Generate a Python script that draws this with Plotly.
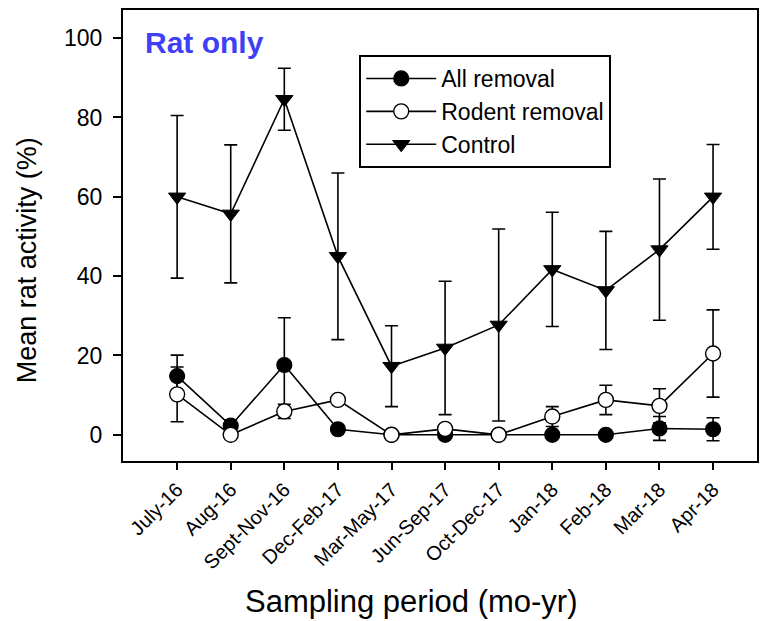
import plotly.graph_objects as go

periods = ["July-16", "Aug-16", "Sept-Nov-16", "Dec-Feb-17", "Mar-May-17",
           "Jun-Sep-17", "Oct-Dec-17", "Jan-18", "Feb-18", "Mar-18", "Apr-18"]

all_removal = [14.8, 2.3, 17.6, 1.4, 0, 0, 0, 0, 0, 1.6, 1.4]
all_removal_err = [5.3, 1.5, 11.9, 0, 0, 0, 0, 0, 0, 3.0, 2.9]

rodent_removal = [10.2, 0, 5.9, 8.8, 0, 1.5, 0, 4.6, 8.8, 7.3, 20.5]
rodent_removal_err = [6.9, 0, 1.8, 0, 0, 0, 0, 2.5, 3.7, 4.3, 11.0]

control = [60, 55.7, 84.6, 45, 17.3, 21.9, 27.7, 41.7, 36.4, 46.7, 60]
control_err = [20.5, 17.4, 7.8, 21, 10.2, 16.8, 24.2, 14.4, 14.9, 17.8, 13.2]

FONT = "Liberation Sans, Arial, sans-serif"

def err(vals):
    return dict(type="data", array=vals, visible=True, color="black",
                thickness=1.6, width=6.5)

fig = go.Figure()
fig.add_trace(go.Scatter(
    x=periods, y=all_removal, name="All removal", mode="lines+markers",
    line=dict(color="black", width=1.6),
    marker=dict(symbol="circle", size=15, color="black",
                line=dict(color="black", width=1.2)),
    error_y=err(all_removal_err)))
fig.add_trace(go.Scatter(
    x=periods, y=rodent_removal, name="Rodent removal", mode="lines+markers",
    line=dict(color="black", width=1.6),
    marker=dict(symbol="circle", size=15, color="white",
                line=dict(color="black", width=1.4)),
    error_y=err(rodent_removal_err)))
fig.add_trace(go.Scatter(
    x=periods, y=control, name="Control", mode="lines+markers",
    line=dict(color="black", width=1.6),
    marker=dict(symbol="triangle-down", size=15, color="black",
                line=dict(color="black", width=1)),
    error_y=err(control_err)))

fig.update_layout(
    width=762, height=621,
    margin=dict(l=123, r=3, t=10, b=160),
    paper_bgcolor="white", plot_bgcolor="white",
    font=dict(family=FONT, color="black"),
    showlegend=True,
    legend=dict(x=0.3726, y=0.9002, xanchor="left", yanchor="top",
                bordercolor="black", borderwidth=2, bgcolor="white",
                font=dict(size=23, family=FONT, color="black"),
                itemwidth=70, tracegroupgap=0),
    xaxis=dict(type="category", range=[-1.01, 10.82],
               showline=True, linecolor="black", linewidth=2, mirror=True,
               ticks="outside", ticklen=7, tickwidth=1.6, tickcolor="black",
               tickangle=-45, tickfont=dict(size=20, family=FONT),
               showgrid=False, zeroline=False),
    yaxis=dict(range=[-6.6, 107.1], tickvals=[0, 20, 40, 60, 80, 100],
               showline=True, linecolor="black", linewidth=2, mirror=True,
               ticks="outside", ticklen=8, tickwidth=1.6, tickcolor="black",
               tickfont=dict(size=23, family=FONT), ticklabelstandoff=6,
               showgrid=False, zeroline=False),
    annotations=[
        dict(text="<b>Rat only</b>", xref="paper", yref="paper",
             x=(143 - 123) / 636, y=(461 - 43) / 451, xanchor="left", yanchor="middle",
             showarrow=False, font=dict(size=30, color="#3F3FF5", family=FONT)),
        dict(text="Sampling period (mo-yr)", xref="paper", yref="paper",
             x=(412 - 123) / 636, y=(461 - 601) / 451, xanchor="center", yanchor="middle",
             showarrow=False, font=dict(size=31, family=FONT)),
        dict(text="Mean rat activity (%)", xref="paper", yref="paper",
             x=(27 - 123) / 636, y=(461 - 260) / 451, xanchor="center", yanchor="middle",
             textangle=-90, showarrow=False, font=dict(size=27, family=FONT)),
    ],
)

fig.write_html("out.html")
